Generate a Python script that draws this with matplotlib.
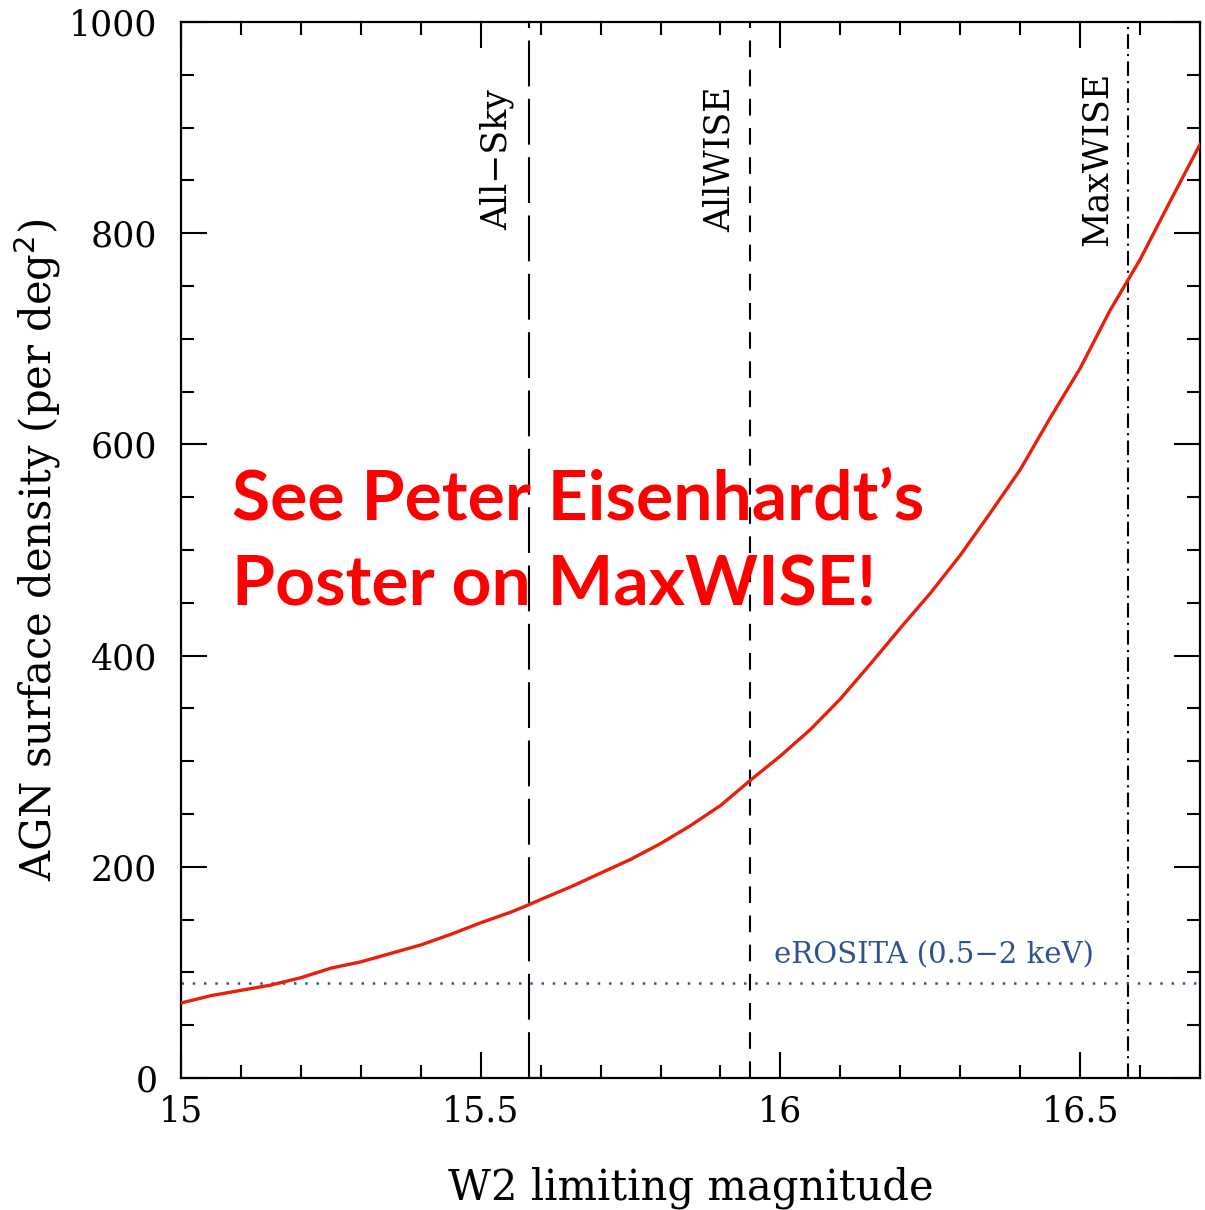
import matplotlib.pyplot as plt
from matplotlib.ticker import MultipleLocator, FuncFormatter

# W2 limiting magnitude vs AGN surface density
w2_mag = [15.00, 15.05, 15.10, 15.15, 15.20, 15.25, 15.30, 15.35, 15.40, 15.45,
          15.50, 15.55, 15.58, 15.60, 15.65, 15.70, 15.75, 15.80, 15.85, 15.90,
          15.95, 16.00, 16.05, 16.10, 16.15, 16.20, 16.25, 16.30, 16.35, 16.40,
          16.45, 16.50, 16.55, 16.60, 16.65, 16.70]
agn_density = [71, 78, 83, 88, 95, 104, 110, 118, 126, 136,
               147, 157, 164, 169, 181, 194, 207, 222, 239, 258,
               282, 305, 330, 359, 392, 426, 459, 495, 535, 576,
               625, 672, 727, 775, 830, 884]

survey_names = ['All\u2212Sky', 'AllWISE', 'MaxWISE']
survey_depths = [15.58, 15.95, 16.58]
erosita_density = 90

fig = plt.figure(figsize=(12.05, 12.10), dpi=100)
ax = fig.add_axes([181 / 1205, 132 / 1210, 1019 / 1205, 1056 / 1210])

serif = 'DejaVu Serif'

ax.plot(w2_mag, agn_density, color='#e8200a', lw=2.4, zorder=3)

styles = [(0, (22, 6)), (0, (8, 6)), (0, (7, 2.5, 1, 2.5))]
for name, depth, ls in zip(survey_names, survey_depths, styles):
    ax.axvline(depth, color='black', lw=1.5, linestyle=ls, zorder=2)
    ax.text(depth - 0.052, 870, name, rotation=90, ha='center', va='center',
            fontsize=25, family=serif)

ax.axhline(erosita_density, color='#34558f', lw=1.8, linestyle=(0, (1, 3.5)), zorder=2)
ax.text(15.99, 103, 'eROSITA (0.5\u22122 keV)', color='#2f5290', fontsize=21,
        family=serif, ha='left', va='bottom')

ax.text(15.085, 529, 'See Peter Eisenhardt\u2019s', color='#ff0000', fontsize=50,
        family='Lato', weight='bold', va='baseline', ha='left', zorder=5)
ax.text(15.085, 447, 'Poster on MaxWISE!', color='#ff0000', fontsize=50,
        family='Lato', weight='bold', va='baseline', ha='left', zorder=5)

ax.set_xlim(15, 16.7)
ax.set_ylim(0, 1000)
ax.xaxis.set_major_locator(MultipleLocator(0.5))
ax.xaxis.set_minor_locator(MultipleLocator(0.1))
ax.yaxis.set_major_locator(MultipleLocator(200))
ax.yaxis.set_minor_locator(MultipleLocator(50))
ax.xaxis.set_major_formatter(FuncFormatter(lambda v, p: ('%g' % v)))

ax.tick_params(which='both', direction='in', top=True, right=True, width=1.5)
ax.tick_params(which='major', length=19)
ax.tick_params(which='minor', length=9.5)
ax.tick_params(axis='y', which='major', pad=17)
ax.tick_params(axis='x', which='major', pad=12)
for lab in ax.get_xticklabels() + ax.get_yticklabels():
    lab.set_family(serif)
    lab.set_fontsize(25)
for sp in ax.spines.values():
    sp.set_linewidth(1.6)

ax.set_xlabel('W2 limiting magnitude', fontsize=30, family=serif, labelpad=27)
ax.set_ylabel('AGN surface density (per deg$^2$)', fontsize=30, family=serif, labelpad=4)

plt.savefig('out.png', dpi=100)
